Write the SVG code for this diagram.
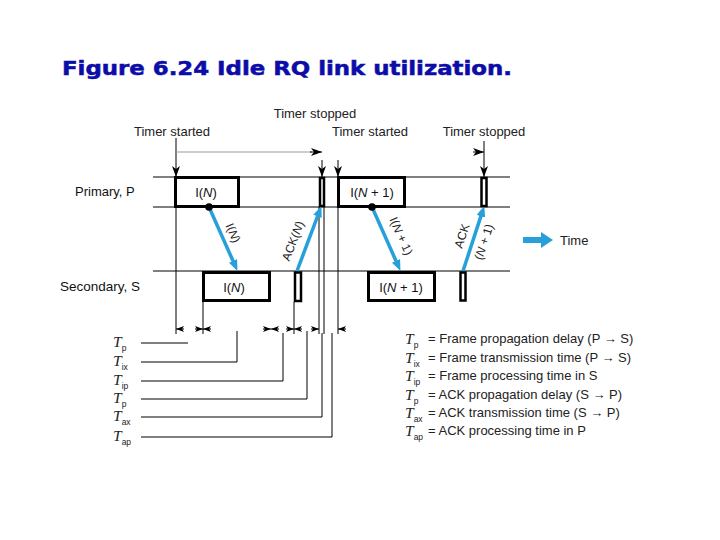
<svg xmlns="http://www.w3.org/2000/svg" width="720" height="540" viewBox="0 0 720 540">
<style>
.t{font-family:"Liberation Sans",Arial,sans-serif;font-size:13px;fill:#222}
.bl{font-family:"Liberation Sans",Arial,sans-serif;font-size:13px;fill:#111}
.al{font-family:"Liberation Sans",Arial,sans-serif;font-size:12px;fill:#222}
.it{font-style:italic}
.T{font-family:"Liberation Serif","Times New Roman",serif;font-style:italic;font-size:15.5px;fill:#222}
.sub{font-family:"Liberation Sans",Arial,sans-serif;font-style:normal;font-size:8.5px;fill:#222}
.ln{stroke:#000;stroke-width:1;fill:none}
.box{fill:#fff;stroke:#000;stroke-width:3}
.tbox{fill:#fff;stroke:#000;stroke-width:2.5}
.blue{stroke:#27a0da;stroke-width:3.5;fill:none}
.dim{stroke:#000;stroke-width:1;fill:none;marker-end:url(#ah)}
.tim{stroke:#000;stroke-width:1;fill:none;marker-end:url(#ahv)}
</style>
<defs>
<marker id="ah" markerUnits="userSpaceOnUse" markerWidth="8" markerHeight="6" refX="8" refY="3" orient="auto"><path d="M0,0 L8,3 L0,6 L2,3 z" fill="#000"/></marker>
<marker id="ahv" markerUnits="userSpaceOnUse" markerWidth="11" markerHeight="8" refX="11" refY="4" orient="auto"><path d="M0,0 L11,4 L0,8 L3,4 z" fill="#000"/></marker>
<marker id="bh" markerUnits="userSpaceOnUse" markerWidth="11" markerHeight="9" refX="2" refY="4.5" orient="auto"><path d="M0,0 L11,4.5 L0,9 z" fill="#27a0da"/></marker>
</defs>
<rect width="720" height="540" fill="#fff"/>
<text x="62" y="75" textLength="450" lengthAdjust="spacingAndGlyphs" style="font-family:'DejaVu Sans',Verdana,sans-serif;font-weight:bold;font-size:19.5px;fill:#0c0ca8;stroke:#0c0ca8;stroke-width:0.5">Figure 6.24 Idle RQ link utilization.</text>

<g id="timelines">
<line class="ln" x1="153" y1="177" x2="510" y2="177"/>
<line class="ln" x1="153" y1="207" x2="510" y2="207"/>
<line class="ln" x1="153" y1="271" x2="510" y2="271"/>
<text class="bl" x="75" y="196">Primary, P</text>
<text class="bl" x="60" y="291" style="font-size:13.5px">Secondary, S</text>
</g>

<g id="connectors">
<line class="ln" x1="176" y1="207" x2="176" y2="334"/>
<line class="ln" x1="203" y1="302" x2="203" y2="334"/>
<line class="ln" x1="294" y1="302" x2="294" y2="334"/>
<line class="ln" x1="319" y1="207" x2="319" y2="334"/>
<line class="ln" x1="324" y1="207" x2="324" y2="334"/>
<line class="ln" x1="338" y1="207" x2="338" y2="334"/>
<line class="tim" x1="176" y1="138" x2="176" y2="177"/>
<line x1="176" y1="152" x2="312" y2="152" stroke="#999" stroke-width="1"/>
<line class="tim" x1="310" y1="152" x2="322" y2="152"/>
<line class="tim" x1="322" y1="160" x2="322" y2="177"/>
<line class="tim" x1="338" y1="160" x2="338" y2="177"/>
<line class="tim" x1="484" y1="141" x2="484" y2="177"/>
<line class="tim" x1="473" y1="152" x2="484" y2="152"/>
<line class="blue" x1="209" y1="207" x2="233.8" y2="262.7" marker-end="url(#bh)"/>
<line class="blue" x1="297" y1="271" x2="318.2" y2="214.5" marker-end="url(#bh)"/>
<line class="blue" x1="372" y1="207" x2="396.8" y2="262.7" marker-end="url(#bh)"/>
<line class="blue" x1="463" y1="271" x2="481.5" y2="214.4" marker-end="url(#bh)"/>
<path d="M523,240 H542" stroke="#27a0da" stroke-width="6"/>
<path d="M541,232 L553,240 L541,248 z" fill="#27a0da"/>
<line class="dim" x1="184" y1="329" x2="176" y2="329"/>
<line class="dim" x1="195" y1="329" x2="203" y2="329"/>
<line class="dim" x1="211" y1="329" x2="203" y2="329"/>
<line class="dim" x1="263" y1="329" x2="271" y2="329"/>
<line class="dim" x1="279" y1="329" x2="271" y2="329"/>
<line class="dim" x1="286" y1="329" x2="294" y2="329"/>
<line class="dim" x1="302" y1="329" x2="294" y2="329"/>
<line class="dim" x1="311" y1="329" x2="319" y2="329"/>
<line class="dim" x1="346" y1="329" x2="338" y2="329"/>
<path class="ln" d="M141,343 H188"/>
<path class="ln" d="M141,362 H237 V331"/>
<path class="ln" d="M141,381 H283 V333"/>
<path class="ln" d="M141,399 H307 V331"/>
<path class="ln" d="M141,417 H322 V333"/>
<path class="ln" d="M141,437 H332 V333"/>
</g>

<g id="timer-labels">
<text class="t" x="172" y="136" text-anchor="middle">Timer started</text>
<text class="t" x="315" y="118" text-anchor="middle">Timer stopped</text>
<text class="t" x="370" y="136" text-anchor="middle">Timer started</text>
<text class="t" x="484" y="136" text-anchor="middle">Timer stopped</text>
</g>

<g id="frame-IN-primary">
<rect class="box" x="175.5" y="177.5" width="63" height="29"/>
<text class="bl" x="206" y="197" text-anchor="middle">I(<tspan class="it">N</tspan>)</text>
<circle cx="209" cy="207" r="3.8" fill="#000"/>
</g>
<g id="ack-N-primary"><rect class="tbox" x="320" y="178" width="4" height="28"/></g>
<g id="frame-IN1-primary">
<rect class="box" x="338.5" y="177.5" width="66" height="29"/>
<text class="bl" x="372" y="197" text-anchor="middle">I(<tspan class="it">N</tspan> + 1)</text>
<circle cx="372" cy="207" r="3.8" fill="#000"/>
</g>
<g id="ack-N1-primary"><rect class="tbox" x="481.5" y="178" width="5" height="28"/></g>

<g id="frame-IN-secondary">
<rect class="box" x="203.5" y="272.5" width="66" height="28"/>
<text class="bl" x="234" y="292" text-anchor="middle">I(<tspan class="it">N</tspan>)</text>
</g>
<g id="ack-N-secondary"><rect class="tbox" x="295" y="272.5" width="6" height="28.5"/></g>
<g id="frame-IN1-secondary">
<rect class="box" x="368.5" y="272.5" width="66" height="28"/>
<text class="bl" x="401" y="292" text-anchor="middle">I(<tspan class="it">N</tspan> + 1)</text>
</g>
<g id="ack-N1-secondary"><rect class="tbox" x="460.5" y="272.5" width="5" height="28"/></g>

<g id="arrow-labels">
<text class="al" transform="translate(233,233) rotate(66)" y="4" text-anchor="middle">I(<tspan class="it">N</tspan>)</text>
<text class="al" transform="translate(293,241) rotate(-69)" y="4" text-anchor="middle">ACK(<tspan class="it">N</tspan>)</text>
<text class="al" transform="translate(401,236) rotate(66)" y="4" text-anchor="middle">I(<tspan class="it">N</tspan> + 1)</text>
<text class="al" transform="translate(462,236) rotate(-72)" y="4" text-anchor="middle">ACK</text>
<text class="al" transform="translate(484,242) rotate(-72)" y="4" text-anchor="middle">(<tspan class="it">N</tspan> + 1)</text>
</g>

<g id="time-label"><text class="t" x="560" y="245">Time</text></g>

<g id="left-symbols">
<text class="T" x="113" y="347">T<tspan class="sub" dy="4">p</tspan></text>
<text class="T" x="113" y="366">T<tspan class="sub" dy="4">ix</tspan></text>
<text class="T" x="113" y="385">T<tspan class="sub" dy="4">ip</tspan></text>
<text class="T" x="113" y="403">T<tspan class="sub" dy="4">p</tspan></text>
<text class="T" x="113" y="421">T<tspan class="sub" dy="4">ax</tspan></text>
<text class="T" x="113" y="441">T<tspan class="sub" dy="4">ap</tspan></text>
</g>

<g id="legend">
<text class="T" x="405" y="344">T<tspan class="sub" dy="3.5">p</tspan></text>
<text class="t" x="428" y="343">= Frame propagation delay (P → S)</text>
<text class="T" x="405" y="363">T<tspan class="sub" dy="3.5">ix</tspan></text>
<text class="t" x="428" y="362">= Frame transmission time (P → S)</text>
<text class="T" x="405" y="381">T<tspan class="sub" dy="3.5">ip</tspan></text>
<text class="t" x="428" y="380">= Frame processing time in S</text>
<text class="T" x="405" y="400">T<tspan class="sub" dy="3.5">p</tspan></text>
<text class="t" x="428" y="399">= ACK propagation delay (S → P)</text>
<text class="T" x="405" y="418">T<tspan class="sub" dy="3.5">ax</tspan></text>
<text class="t" x="428" y="417">= ACK transmission time (S → P)</text>
<text class="T" x="405" y="436">T<tspan class="sub" dy="3.5">ap</tspan></text>
<text class="t" x="428" y="435">= ACK processing time in P</text>
</g>
</svg>
